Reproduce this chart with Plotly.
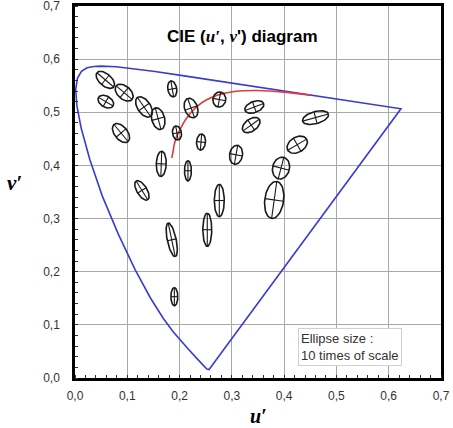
import numpy as np
import plotly.graph_objects as go

# Spectral locus (u', v'), 380 nm -> 700 nm
locus_u = [0.2568, 0.2566, 0.2522, 0.2461, 0.2347, 0.2161, 0.1877, 0.1690, 0.1440, 0.1147,
           0.0828, 0.0521, 0.0282, 0.0119, 0.0035, 0.0014, 0.0046, 0.0123, 0.0231, 0.0360,
           0.0501, 0.0792, 0.1127, 0.1531, 0.2026, 0.2623, 0.3315, 0.4035, 0.5203, 0.5830,
           0.6109, 0.6234]
locus_v = [0.0166, 0.0160, 0.0169, 0.0226, 0.0350, 0.0550, 0.0871, 0.1120, 0.1510, 0.2044,
           0.2708, 0.3427, 0.4117, 0.4698, 0.5130, 0.5432, 0.5638, 0.5770, 0.5837, 0.5861,
           0.5868, 0.5856, 0.5821, 0.5766, 0.5694, 0.5604, 0.5501, 0.5393, 0.5219, 0.5125,
           0.5084, 0.5065]

# Planckian locus
planck_u = [0.185, 0.187, 0.190, 0.195, 0.201, 0.212, 0.225, 0.236, 0.251, 0.272, 0.305, 0.348, 0.400, 0.450]
planck_v = [0.414, 0.423, 0.440, 0.456, 0.468, 0.487, 0.503, 0.513, 0.523, 0.532, 0.539, 0.541, 0.538, 0.532]

# MacAdam ellipses (x10): centre, semi-axes, orientation (deg)
ell_u = [0.058, 0.094, 0.059, 0.132, 0.159, 0.186, 0.088, 0.222, 0.195, 0.276, 0.241, 0.165, 0.216,
         0.343, 0.337, 0.308, 0.460, 0.425, 0.394, 0.381, 0.128, 0.276, 0.185, 0.253, 0.190]
ell_v = [0.561, 0.537, 0.520, 0.510, 0.488, 0.544, 0.461, 0.508, 0.461, 0.524, 0.444, 0.403, 0.390,
         0.510, 0.476, 0.420, 0.490, 0.439, 0.395, 0.335, 0.353, 0.334, 0.260, 0.279, 0.153]
ell_a = [0.0209, 0.0199, 0.0161, 0.0218, 0.0209, 0.0152, 0.0209, 0.0190, 0.0133, 0.0142, 0.0152, 0.0237, 0.0190,
         0.0190, 0.0190, 0.0180, 0.0256, 0.0209, 0.0209, 0.0351, 0.0209, 0.0304, 0.0323, 0.0313, 0.0171]
ell_b = [0.0114, 0.0123, 0.0104, 0.0123, 0.0123, 0.0085, 0.0123, 0.0123, 0.0085, 0.0123, 0.0085, 0.0095, 0.0066,
         0.0104, 0.0114, 0.0123, 0.0114, 0.0142, 0.0161, 0.0180, 0.0095, 0.0095, 0.0085, 0.0085, 0.0066]
ell_ang = [-40, -40, -30, -55, -75, -80, -50, -70, -80, 80, 85, 88, 90,
           20, 35, 80, 15, 30, 75, 82, -58, 90, -78, 90, 90]

tick_vals = [0.0, 0.1, 0.2, 0.3, 0.4, 0.5, 0.6, 0.7]

# build ellipse outlines and axis crosses
t = np.linspace(0, 2 * np.pi, 60)
ex, ey, cx, cy = [], [], [], []
for u0, v0, a, b, ang in zip(ell_u, ell_v, ell_a, ell_b, ell_ang):
    th = np.deg2rad(ang)
    c, s = np.cos(th), np.sin(th)
    xs = u0 + a * np.cos(t) * c - b * np.sin(t) * s
    ys = v0 + a * np.cos(t) * s + b * np.sin(t) * c
    ex += list(xs) + [None]
    ey += list(ys) + [None]
    cx += [u0 - a * c, u0 + a * c, None, u0 + b * s, u0 - b * s, None]
    cy += [v0 - a * s, v0 + a * s, None, v0 - b * c, v0 + b * c, None]

fig = go.Figure()
fig.add_trace(go.Scatter(x=locus_u + [locus_u[0]], y=locus_v + [locus_v[0]], mode="lines",
                         line=dict(color="#3b3bd0", width=1.6), hoverinfo="skip"))
fig.add_trace(go.Scatter(x=planck_u, y=planck_v, mode="lines", line_shape="spline",
                         line=dict(color="#e03a3a", width=1.6), hoverinfo="skip"))
fig.add_trace(go.Scatter(x=ex, y=ey, mode="lines", line=dict(color="#1a1a1a", width=1.6), hoverinfo="skip"))
fig.add_trace(go.Scatter(x=cx, y=cy, mode="lines", line=dict(color="#1a1a1a", width=1.1), hoverinfo="skip"))

axis_common = dict(
    range=[0, 0.7], tickvals=tick_vals, tickformat=".1f",
    showgrid=True, gridcolor="#a8a8a8", gridwidth=1,
    showline=True, linecolor="black", linewidth=2.5, mirror=True,
    ticks="outside", tickcolor="rgba(0,0,0,0)", zeroline=False,
    automargin=False, ticklabeloverflow="allow",
    tickfont=dict(family="Liberation Sans, Arial", size=12, color="#333333"),
    minor=dict(dtick=0.02, ticks="inside", ticklen=3, tickcolor="#333333", tickwidth=1, showgrid=False),
)
fig.update_xaxes(**axis_common, ticklen=5)
fig.update_yaxes(**axis_common, ticklen=10)

serif = "Liberation Serif, Times New Roman, serif"
fig.add_annotation(xref="paper", yref="paper", x=0.459, y=0.949, showarrow=False,
                   text=('<b>CIE (<span style="font-family:Liberation Serif"><i>u′</i></span>, '
                         '<span style="font-family:Liberation Serif"><i>v</i></span>\') diagram</b>'),
                   font=dict(family="Liberation Sans, Arial", size=17, color="black"))
fig.add_annotation(xref="paper", yref="paper", x=-0.19, y=0.524, showarrow=False,
                   text="<b><i>v′</i></b>", font=dict(family=serif, size=21, color="black"))
fig.add_annotation(xref="paper", yref="paper", x=0.5, y=-0.1335, yanchor="bottom", showarrow=False,
                   borderpad=0,
                   text="<b><i>u′</i></b>", font=dict(family=serif, size=20, color="black"))
fig.add_annotation(xref="paper", yref="paper", x=0.609, y=0.032, xanchor="left", yanchor="bottom",
                   showarrow=False, align="left",
                   text="Ellipse size :<br>10 times of scale",
                   font=dict(family="Liberation Sans, Arial", size=13, color="#333333"),
                   bordercolor="#d0d0d0", borderwidth=1, borderpad=2, bgcolor="white")

fig.update_layout(
    width=453, height=428, showlegend=False,
    margin=dict(l=75, r=12, t=6, b=50),
    plot_bgcolor="white", paper_bgcolor="white",
    separators=",.",
)
fig.write_html("out.html", config={"displayModeBar": False},
               post_script="document.body.style.margin='0';")
